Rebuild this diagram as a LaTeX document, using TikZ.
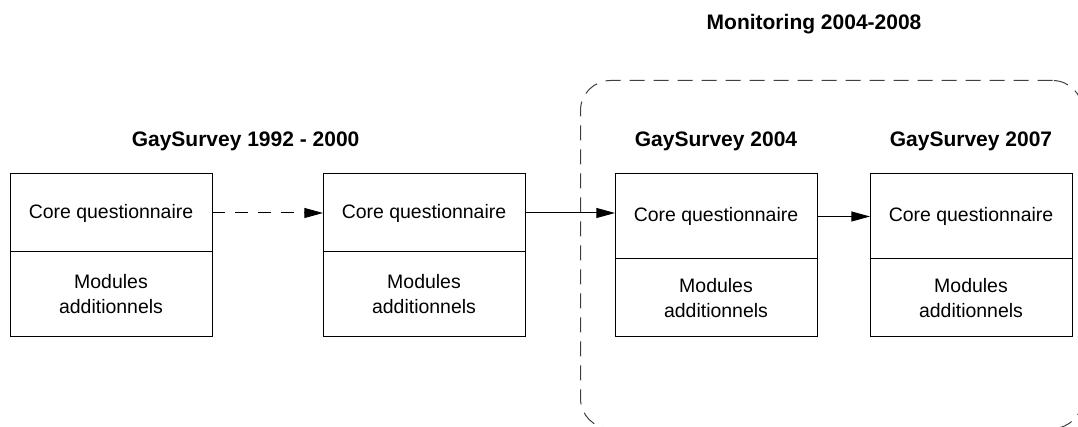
\documentclass[tikz,border=0pt]{standalone}
\usepackage{fontspec}
\setmainfont{Liberation Sans}
\usetikzlibrary{arrows.meta,positioning,calc}

\begin{document}
\begin{tikzpicture}[
    corebox/.style={rectangle, draw=black, line width=0.75pt, outer sep=0pt, inner sep=2pt, align=center, minimum width=151.5pt, font=\fontsize{14.6pt}{18.7pt}\selectfont},
    title/.style={inner sep=0pt, font=\fontsize{15.75pt}{19pt}\selectfont\bfseries},
    link/.style={-{Triangle[length=14pt, width=7.5pt]}, line width=0.75pt},
    frame/.style={rectangle, draw=black!75, line width=0.75pt, dash pattern=on 11.25pt off 6.75pt, rounded corners=22.5pt}
  ]
    \useasboundingbox (0pt,0pt) rectangle (808.5pt,-320.25pt);
    % dashed frame around the monitoring surveys
    \node[frame, minimum width=376.5pt, minimum height=261pt, anchor=north west] (monitor) at (435pt,-60pt) {};
    \node[title, above=37.5pt of monitor.north, anchor=base, xshift=-13.1pt] (montitle) {Monitoring 2004-2008};

    \node[corebox, minimum height=58.5pt, anchor=north west] (core1) at (7.5pt,-130.5pt) {Core questionnaire};
    \node[corebox, below=0pt of core1, minimum height=63.75pt] (mod1) {Modules\\additionnels};
    \node[corebox, right=83.25pt of core1, minimum height=58.5pt] (core2) {Core questionnaire};
    \node[corebox, below=0pt of core2, minimum height=63.75pt] (mod2) {Modules\\additionnels};
    \node[corebox, right=67.5pt of core2.north east, anchor=north west, minimum height=63.75pt] (core3) {Core questionnaire};
    \node[corebox, below=0pt of core3, minimum height=58.5pt] (mod3) {Modules\\additionnels};
    \node[corebox, right=39.75pt of core3, minimum height=63.75pt] (core4) {Core questionnaire};
    \node[corebox, below=0pt of core4, minimum height=58.5pt] (mod4) {Modules\\additionnels};

    \coordinate (mid12) at ($(core1.north)!0.43!(core2.north)$);
    \node[title, above=20.25pt of mid12, anchor=base] (title1) {GaySurvey 1992 - 2000};
    \node[title, above=20.25pt of core3.north, anchor=base] (title3) {GaySurvey 2004};
    \node[title, above=20.25pt of core4.north, anchor=base] (title4) {GaySurvey 2007};

    \draw[link, dash pattern=on 9.75pt off 7.5pt] (core1.east) -- (core2.west);
    \draw[link] (core2.east) -- (core2.east -| core3.west);
    \draw[link] (core3.east) -- (core4.west);
  \end{tikzpicture}
\end{document}
